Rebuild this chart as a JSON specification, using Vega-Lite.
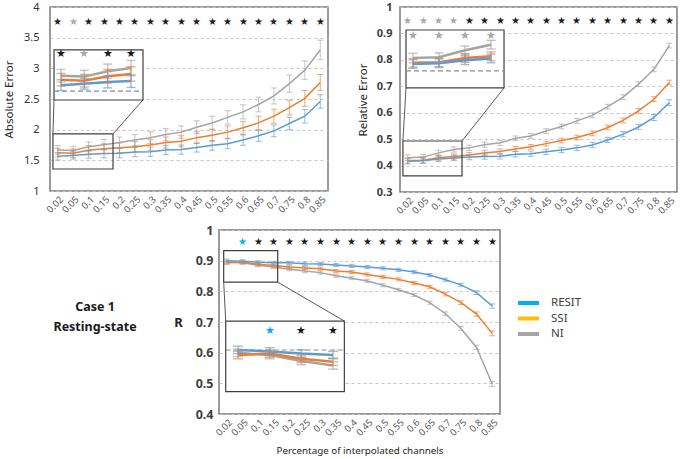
{
"$schema": "https://vega.github.io/schema/vega-lite/v6.json",
"padding": {"left": 2, "top": 0, "right": 0, "bottom": 0},
"spacing": 7,
"align": "none",
"resolve": {"scale": {"x": "independent", "y": "independent", "color": "independent", "fill": "independent", "stroke": "independent"}},
"datasets": {
"vals": [
{"pct":"0.02","method":"NI","abs":1.67,"absErr":0.07,"rel":0.43,"relErr":0.011,"r":0.896,"rErr":0.005},
{"pct":"0.05","method":"NI","abs":1.66,"absErr":0.07,"rel":0.432,"relErr":0.01,"r":0.893,"rErr":0.005},
{"pct":"0.1","method":"NI","abs":1.72,"absErr":0.08,"rel":0.448,"relErr":0.01,"r":0.885,"rErr":0.005},
{"pct":"0.15","method":"NI","abs":1.755,"absErr":0.085,"rel":0.461,"relErr":0.01,"r":0.879,"rErr":0.005},
{"pct":"0.2","method":"NI","abs":1.79,"absErr":0.09,"rel":0.467,"relErr":0.01,"r":0.872,"rErr":0.005},
{"pct":"0.25","method":"NI","abs":1.83,"absErr":0.09,"rel":0.479,"relErr":0.01,"r":0.866,"rErr":0.005},
{"pct":"0.3","method":"NI","abs":1.87,"absErr":0.095,"rel":0.486,"relErr":0.01,"r":0.861,"rErr":0.005},
{"pct":"0.35","method":"NI","abs":1.92,"absErr":0.1,"rel":0.503,"relErr":0.009,"r":0.851,"rErr":0.005},
{"pct":"0.4","method":"NI","abs":1.96,"absErr":0.1,"rel":0.512,"relErr":0.009,"r":0.843,"rErr":0.005},
{"pct":"0.45","method":"NI","abs":2.04,"absErr":0.105,"rel":0.531,"relErr":0.009,"r":0.834,"rErr":0.005},
{"pct":"0.5","method":"NI","abs":2.11,"absErr":0.11,"rel":0.548,"relErr":0.009,"r":0.82,"rErr":0.005},
{"pct":"0.55","method":"NI","abs":2.2,"absErr":0.11,"rel":0.569,"relErr":0.009,"r":0.805,"rErr":0.005},
{"pct":"0.6","method":"NI","abs":2.29,"absErr":0.115,"rel":0.59,"relErr":0.009,"r":0.788,"rErr":0.005},
{"pct":"0.65","method":"NI","abs":2.41,"absErr":0.12,"rel":0.623,"relErr":0.009,"r":0.763,"rErr":0.005},
{"pct":"0.7","method":"NI","abs":2.55,"absErr":0.13,"rel":0.659,"relErr":0.009,"r":0.727,"rErr":0.006},
{"pct":"0.75","method":"NI","abs":2.75,"absErr":0.14,"rel":0.708,"relErr":0.009,"r":0.679,"rErr":0.006},
{"pct":"0.8","method":"NI","abs":2.97,"absErr":0.15,"rel":0.764,"relErr":0.009,"r":0.617,"rErr":0.007},
{"pct":"0.85","method":"NI","abs":3.3,"absErr":0.16,"rel":0.854,"relErr":0.009,"r":0.498,"rErr":0.008},
{"pct":"0.02","method":"SSI","abs":1.625,"absErr":0.07,"rel":0.419,"relErr":0.01,"r":0.893,"rErr":0.005},
{"pct":"0.05","method":"SSI","abs":1.615,"absErr":0.07,"rel":0.42,"relErr":0.01,"r":0.895,"rErr":0.005},
{"pct":"0.1","method":"SSI","abs":1.665,"absErr":0.075,"rel":0.43,"relErr":0.01,"r":0.888,"rErr":0.005},
{"pct":"0.15","method":"SSI","abs":1.69,"absErr":0.08,"rel":0.434,"relErr":0.01,"r":0.884,"rErr":0.005},
{"pct":"0.2","method":"SSI","abs":1.705,"absErr":0.08,"rel":0.44,"relErr":0.01,"r":0.879,"rErr":0.005},
{"pct":"0.25","method":"SSI","abs":1.72,"absErr":0.085,"rel":0.448,"relErr":0.01,"r":0.876,"rErr":0.005},
{"pct":"0.3","method":"SSI","abs":1.75,"absErr":0.085,"rel":0.453,"relErr":0.01,"r":0.874,"rErr":0.005},
{"pct":"0.35","method":"SSI","abs":1.79,"absErr":0.09,"rel":0.463,"relErr":0.009,"r":0.866,"rErr":0.005},
{"pct":"0.4","method":"SSI","abs":1.81,"absErr":0.09,"rel":0.471,"relErr":0.009,"r":0.863,"rErr":0.005},
{"pct":"0.45","method":"SSI","abs":1.87,"absErr":0.095,"rel":0.483,"relErr":0.009,"r":0.855,"rErr":0.005},
{"pct":"0.5","method":"SSI","abs":1.91,"absErr":0.1,"rel":0.495,"relErr":0.009,"r":0.847,"rErr":0.005},
{"pct":"0.55","method":"SSI","abs":1.96,"absErr":0.1,"rel":0.506,"relErr":0.009,"r":0.839,"rErr":0.005},
{"pct":"0.6","method":"SSI","abs":2.03,"absErr":0.105,"rel":0.522,"relErr":0.009,"r":0.827,"rErr":0.005},
{"pct":"0.65","method":"SSI","abs":2.11,"absErr":0.11,"rel":0.544,"relErr":0.009,"r":0.815,"rErr":0.005},
{"pct":"0.7","method":"SSI","abs":2.22,"absErr":0.115,"rel":0.571,"relErr":0.009,"r":0.791,"rErr":0.006},
{"pct":"0.75","method":"SSI","abs":2.36,"absErr":0.12,"rel":0.607,"relErr":0.009,"r":0.763,"rErr":0.006},
{"pct":"0.8","method":"SSI","abs":2.51,"absErr":0.13,"rel":0.651,"relErr":0.009,"r":0.726,"rErr":0.007},
{"pct":"0.85","method":"SSI","abs":2.77,"absErr":0.13,"rel":0.714,"relErr":0.009,"r":0.663,"rErr":0.008},
{"pct":"0.02","method":"RESIT","abs":1.565,"absErr":0.06,"rel":0.416,"relErr":0.01,"r":0.9,"rErr":0.005},
{"pct":"0.05","method":"RESIT","abs":1.58,"absErr":0.06,"rel":0.418,"relErr":0.01,"r":0.898,"rErr":0.005},
{"pct":"0.1","method":"RESIT","abs":1.6,"absErr":0.065,"rel":0.425,"relErr":0.01,"r":0.895,"rErr":0.005},
{"pct":"0.15","method":"RESIT","abs":1.61,"absErr":0.07,"rel":0.429,"relErr":0.01,"r":0.893,"rErr":0.005},
{"pct":"0.2","method":"RESIT","abs":1.615,"absErr":0.075,"rel":0.432,"relErr":0.01,"r":0.893,"rErr":0.005},
{"pct":"0.25","method":"RESIT","abs":1.635,"absErr":0.075,"rel":0.434,"relErr":0.01,"r":0.89,"rErr":0.005},
{"pct":"0.3","method":"RESIT","abs":1.64,"absErr":0.075,"rel":0.435,"relErr":0.01,"r":0.889,"rErr":0.005},
{"pct":"0.35","method":"RESIT","abs":1.67,"absErr":0.075,"rel":0.443,"relErr":0.01,"r":0.886,"rErr":0.005},
{"pct":"0.4","method":"RESIT","abs":1.675,"absErr":0.075,"rel":0.445,"relErr":0.01,"r":0.883,"rErr":0.005},
{"pct":"0.45","method":"RESIT","abs":1.71,"absErr":0.075,"rel":0.452,"relErr":0.01,"r":0.879,"rErr":0.005},
{"pct":"0.5","method":"RESIT","abs":1.745,"absErr":0.08,"rel":0.459,"relErr":0.01,"r":0.875,"rErr":0.005},
{"pct":"0.55","method":"RESIT","abs":1.77,"absErr":0.08,"rel":0.467,"relErr":0.01,"r":0.87,"rErr":0.005},
{"pct":"0.6","method":"RESIT","abs":1.83,"absErr":0.085,"rel":0.478,"relErr":0.01,"r":0.863,"rErr":0.005},
{"pct":"0.65","method":"RESIT","abs":1.9,"absErr":0.09,"rel":0.497,"relErr":0.01,"r":0.853,"rErr":0.005},
{"pct":"0.7","method":"RESIT","abs":1.98,"absErr":0.095,"rel":0.519,"relErr":0.01,"r":0.838,"rErr":0.005},
{"pct":"0.75","method":"RESIT","abs":2.1,"absErr":0.1,"rel":0.546,"relErr":0.01,"r":0.821,"rErr":0.005},
{"pct":"0.8","method":"RESIT","abs":2.22,"absErr":0.11,"rel":0.582,"relErr":0.011,"r":0.796,"rErr":0.006},
{"pct":"0.85","method":"RESIT","abs":2.46,"absErr":0.11,"rel":0.638,"relErr":0.011,"r":0.752,"rErr":0.007}
],
"stars": [
{"pct":"0.02","absSig":"all","relSig":"NI","rSig":null},
{"pct":"0.05","absSig":"NI","relSig":"NI","rSig":"RESIT"},
{"pct":"0.1","absSig":"all","relSig":"NI","rSig":"all"},
{"pct":"0.15","absSig":"all","relSig":"NI","rSig":"all"},
{"pct":"0.2","absSig":"all","relSig":"all","rSig":"all"},
{"pct":"0.25","absSig":"all","relSig":"all","rSig":"all"},
{"pct":"0.3","absSig":"all","relSig":"all","rSig":"all"},
{"pct":"0.35","absSig":"all","relSig":"all","rSig":"all"},
{"pct":"0.4","absSig":"all","relSig":"all","rSig":"all"},
{"pct":"0.45","absSig":"all","relSig":"all","rSig":"all"},
{"pct":"0.5","absSig":"all","relSig":"all","rSig":"all"},
{"pct":"0.55","absSig":"all","relSig":"all","rSig":"all"},
{"pct":"0.6","absSig":"all","relSig":"all","rSig":"all"},
{"pct":"0.65","absSig":"all","relSig":"all","rSig":"all"},
{"pct":"0.7","absSig":"all","relSig":"all","rSig":"all"},
{"pct":"0.75","absSig":"all","relSig":"all","rSig":"all"},
{"pct":"0.8","absSig":"all","relSig":"all","rSig":"all"},
{"pct":"0.85","absSig":"all","relSig":"all","rSig":"all"}
],
"legendRows": [{"method":"RESIT"},{"method":"SSI"},{"method":"NI"}]
},
"vconcat": [
{"hconcat": [
{"width": 278, "height": 184,
 "resolve": {"scale": {"x": "independent", "y": "independent"}},
 "layer": [
  {"layer": [
   {"data": {"name": "vals"}, "mark": {"type": "line", "strokeWidth": 1.5},
    "encoding": {
     "x": {"field": "pct", "type": "ordinal", "title": null, "scale": {"type": "point", "padding": 0.5, "domain": ["0.02","0.05","0.1","0.15","0.2","0.25","0.3","0.35","0.4","0.45","0.5","0.55","0.6","0.65","0.7","0.75","0.8","0.85"]}},
     "y": {"field": "abs", "type": "quantitative", "title": "Absolute Error", "scale": {"domain": [1, 4], "nice": false, "zero": false}, "axis": {"values": [1,1.5,2,2.5,3,3.5,4], "tickCount": 7, "labelOverlap": false, "format": "~g", "labelPadding": 11, "titlePadding": 9, "labelFontSize": 11}},
     "color": {"field": "method", "type": "nominal", "scale": {"domain": ["RESIT","SSI","NI"], "range": ["#5B9BD5","#ED7D31","#A5A5A5"]}, "legend": null}}},
   {"data": {"name": "vals"}, "mark": {"type": "errorbar", "ticks": {"size": 6}, "thickness": 1},
    "encoding": {
     "x": {"field": "pct", "type": "ordinal", "title": null},
     "y": {"field": "abs", "type": "quantitative", "title": "Absolute Error", "axis": {"values": [1,1.5,2,2.5,3,3.5,4], "tickCount": 7, "labelOverlap": false, "format": "~g", "labelPadding": 11, "titlePadding": 9, "labelFontSize": 11}},
     "yError": {"field": "absErr"},
     "color": {"field": "method", "type": "nominal", "legend": null},
     "opacity": {"value": 0.65}}},
   {"data": {"name": "stars"}, "transform": [{"filter": "datum.absSig != null"}],
    "mark": {"type": "text", "text": "★", "fontSize": 10, "baseline": "middle"},
    "encoding": {
     "x": {"field": "pct", "type": "ordinal", "title": null},
     "y": {"datum": 3.75, "type": "quantitative", "title": "Absolute Error", "axis": {"values": [1,1.5,2,2.5,3,3.5,4], "tickCount": 7, "labelOverlap": false, "format": "~g", "labelPadding": 11, "titlePadding": 9, "labelFontSize": 11}},
     "fill": {"field": "absSig", "type": "nominal", "scale": {"domain": ["all","NI","RESIT"], "range": ["#1a1a1a","#a8a8a8","#00B0F0"]}, "legend": null}}}
  ]},
  {"data": {"values": [{}]},
   "layer": [
    {"mark": {"type": "rect", "fillOpacity": 0, "stroke": "#404040", "strokeWidth": 1.2},
     "encoding": {"x": {"datum": 0.19, "type": "quantitative", "scale": {"domain": [0, 18], "nice": false, "zero": false}, "axis": null}, "x2": {"datum": 4.08},
      "y": {"datum": 1.359, "type": "quantitative", "scale": {"domain": [1, 4], "nice": false, "zero": false}, "axis": null}, "y2": {"datum": 1.93}}},
    {"mark": {"type": "rule", "stroke": "#595959", "strokeWidth": 1},
     "encoding": {"x": {"datum": 0.19, "type": "quantitative"}, "x2": {"datum": 0.26}, "y": {"datum": 1.93, "type": "quantitative"}, "y2": {"datum": 2.484}}},
    {"mark": {"type": "rule", "stroke": "#595959", "strokeWidth": 1},
     "encoding": {"x": {"datum": 4.08, "type": "quantitative"}, "x2": {"datum": 6.02}, "y": {"datum": 1.93, "type": "quantitative"}, "y2": {"datum": 2.484}}},
    {"mark": {"type": "rect", "fill": "white", "stroke": "#404040", "strokeWidth": 1.2},
     "encoding": {"x": {"datum": 0.26, "type": "quantitative"}, "x2": {"datum": 6.02}, "y": {"datum": 2.484, "type": "quantitative"}, "y2": {"datum": 3.3}}},
    {"mark": {"type": "rule", "stroke": "#8c8c8c", "strokeWidth": 1.2, "strokeDash": [5, 3]},
     "encoding": {"x": {"datum": 0.26, "type": "quantitative"}, "x2": {"datum": 6.02}, "y": {"datum": 2.63, "type": "quantitative"}}}
   ]},
  {"layer": [
   {"data": {"name": "vals"}, "transform": [{"filter": {"field": "pct", "oneOf": ["0.02","0.05","0.1","0.15"]}}],
    "mark": {"type": "line", "strokeWidth": 2.5},
    "encoding": {
     "x": {"field": "pct", "type": "ordinal", "scale": {"type": "point", "domain": ["0.02","0.05","0.1","0.15"], "range": [11, 81], "padding": 0}, "axis": null},
     "y": {"field": "abs", "type": "quantitative", "scale": {"domain": [1.4, 1.956], "range": [93, 43], "nice": false, "zero": false}, "axis": null},
     "color": {"field": "method", "type": "nominal", "legend": null}}},
   {"data": {"name": "vals"}, "transform": [{"filter": {"field": "pct", "oneOf": ["0.02","0.05","0.1","0.15"]}}],
    "mark": {"type": "errorbar", "ticks": {"size": 9}, "thickness": 1.4},
    "encoding": {
     "x": {"field": "pct", "type": "ordinal", "axis": null},
     "y": {"field": "abs", "type": "quantitative", "axis": null},
     "yError": {"field": "absErr"},
     "color": {"field": "method", "type": "nominal", "legend": null},
     "opacity": {"value": 0.65}}},
   {"data": {"name": "stars"}, "transform": [{"filter": {"field": "pct", "oneOf": ["0.02","0.05","0.1","0.15"]}}, {"filter": "datum.absSig != null"}],
    "mark": {"type": "text", "text": "★", "fontSize": 11, "baseline": "middle"},
    "encoding": {
     "x": {"field": "pct", "type": "ordinal", "axis": null},
     "y": {"datum": 1.91, "type": "quantitative", "axis": null},
     "fill": {"field": "absSig", "type": "nominal", "legend": null}}}
  ]}
 ]},
{"width": 277, "height": 185,
 "resolve": {"scale": {"x": "independent", "y": "independent"}},
 "layer": [
  {"layer": [
   {"data": {"name": "vals"}, "mark": {"type": "line", "strokeWidth": 1.5},
    "encoding": {
     "x": {"field": "pct", "type": "ordinal", "title": null, "scale": {"type": "point", "padding": 0.5, "domain": ["0.02","0.05","0.1","0.15","0.2","0.25","0.3","0.35","0.4","0.45","0.5","0.55","0.6","0.65","0.7","0.75","0.8","0.85"]}},
     "y": {"field": "rel", "type": "quantitative", "title": "Relative Error", "scale": {"domain": [0.3, 1], "nice": false, "zero": false}, "axis": {"values": [0.3,0.4,0.5,0.6,0.7,0.8,0.9,1], "tickCount": 8, "labelOverlap": false, "format": "~g", "labelPadding": 8, "titlePadding": 8, "labelFontSize": 11, "labelFontWeight": "bold", "labelColor": "#404040"}},
     "color": {"field": "method", "type": "nominal", "scale": {"domain": ["RESIT","SSI","NI"], "range": ["#5B9BD5","#ED7D31","#A5A5A5"]}, "legend": null}}},
   {"data": {"name": "vals"}, "mark": {"type": "errorbar", "ticks": {"size": 6}, "thickness": 1},
    "encoding": {
     "x": {"field": "pct", "type": "ordinal", "title": null},
     "y": {"field": "rel", "type": "quantitative", "title": "Relative Error", "axis": {"values": [0.3,0.4,0.5,0.6,0.7,0.8,0.9,1], "tickCount": 8, "labelOverlap": false, "format": "~g", "labelPadding": 8, "titlePadding": 8, "labelFontSize": 11, "labelFontWeight": "bold", "labelColor": "#404040"}},
     "yError": {"field": "relErr"},
     "color": {"field": "method", "type": "nominal", "legend": null},
     "opacity": {"value": 0.65}}},
   {"data": {"name": "stars"}, "transform": [{"filter": "datum.relSig != null"}],
    "mark": {"type": "text", "text": "★", "fontSize": 10, "baseline": "middle"},
    "encoding": {
     "x": {"field": "pct", "type": "ordinal", "title": null},
     "y": {"datum": 0.946, "type": "quantitative", "title": "Relative Error", "axis": {"values": [0.3,0.4,0.5,0.6,0.7,0.8,0.9,1], "tickCount": 8, "labelOverlap": false, "format": "~g", "labelPadding": 8, "titlePadding": 8, "labelFontSize": 11, "labelFontWeight": "bold", "labelColor": "#404040"}},
     "fill": {"field": "relSig", "type": "nominal", "scale": {"domain": ["all","NI","RESIT"], "range": ["#1a1a1a","#a8a8a8","#00B0F0"]}, "legend": null}}}
  ]},
  {"data": {"values": [{}]},
   "layer": [
    {"mark": {"type": "rect", "fillOpacity": 0, "stroke": "#404040", "strokeWidth": 1.2},
     "encoding": {"x": {"datum": 0.19, "type": "quantitative", "scale": {"domain": [0, 18], "nice": false, "zero": false}, "axis": null}, "x2": {"datum": 4.03},
      "y": {"datum": 0.361, "type": "quantitative", "scale": {"domain": [0.3, 1], "nice": false, "zero": false}, "axis": null}, "y2": {"datum": 0.493}}},
    {"mark": {"type": "rule", "stroke": "#595959", "strokeWidth": 1},
     "encoding": {"x": {"datum": 0.19, "type": "quantitative"}, "x2": {"datum": 0.39}, "y": {"datum": 0.493, "type": "quantitative"}, "y2": {"datum": 0.694}}},
    {"mark": {"type": "rule", "stroke": "#595959", "strokeWidth": 1},
     "encoding": {"x": {"datum": 4.03, "type": "quantitative"}, "x2": {"datum": 6.76}, "y": {"datum": 0.493, "type": "quantitative"}, "y2": {"datum": 0.694}}},
    {"mark": {"type": "rect", "fill": "white", "stroke": "#404040", "strokeWidth": 1.2},
     "encoding": {"x": {"datum": 0.39, "type": "quantitative"}, "x2": {"datum": 6.76}, "y": {"datum": 0.694, "type": "quantitative"}, "y2": {"datum": 0.913}}},
    {"mark": {"type": "rule", "stroke": "#8c8c8c", "strokeWidth": 1.2, "strokeDash": [5, 3]},
     "encoding": {"x": {"datum": 0.39, "type": "quantitative"}, "x2": {"datum": 6.76}, "y": {"datum": 0.758, "type": "quantitative"}}}
   ]},
  {"layer": [
   {"data": {"name": "vals"}, "transform": [{"filter": {"field": "pct", "oneOf": ["0.02","0.05","0.1","0.15"]}}],
    "mark": {"type": "line", "strokeWidth": 2.5},
    "encoding": {
     "x": {"field": "pct", "type": "ordinal", "scale": {"type": "point", "domain": ["0.02","0.05","0.1","0.15"], "range": [13, 91], "padding": 0}, "axis": null},
     "y": {"field": "rel", "type": "quantitative", "scale": {"domain": [0.3605, 0.495], "range": [81, 23], "nice": false, "zero": false}, "axis": null},
     "color": {"field": "method", "type": "nominal", "legend": null}}},
   {"data": {"name": "vals"}, "transform": [{"filter": {"field": "pct", "oneOf": ["0.02","0.05","0.1","0.15"]}}],
    "mark": {"type": "errorbar", "ticks": {"size": 9}, "thickness": 1.4},
    "encoding": {
     "x": {"field": "pct", "type": "ordinal", "axis": null},
     "y": {"field": "rel", "type": "quantitative", "axis": null},
     "yError": {"field": "relErr"},
     "color": {"field": "method", "type": "nominal", "legend": null},
     "opacity": {"value": 0.65}}},
   {"data": {"name": "stars"}, "transform": [{"filter": {"field": "pct", "oneOf": ["0.02","0.05","0.1","0.15"]}}, {"filter": "datum.relSig != null"}],
    "mark": {"type": "text", "text": "★", "fontSize": 11, "baseline": "middle"},
    "encoding": {
     "x": {"field": "pct", "type": "ordinal", "axis": null},
     "y": {"datum": 0.481, "type": "quantitative", "axis": null},
     "fill": {"field": "relSig", "type": "nominal", "legend": null}}}
  ]}
 ]}
], "spacing": 27, "resolve": {"scale": {"x": "independent", "y": "independent", "color": "independent", "fill": "independent", "stroke": "independent"}}},
{"hconcat": [
{"width": 114, "height": 184, "view": {"stroke": null},
 "data": {"values": [{}]},
 "layer": [
  {"mark": {"type": "text", "text": "Case 1", "fontSize": 12.5, "fontWeight": "bold", "color": "#1a1a1a"},
   "encoding": {"x": {"datum": 0.395, "type": "quantitative", "scale": {"domain": [0, 1]}, "axis": null}, "y": {"datum": 0.5815, "type": "quantitative", "scale": {"domain": [0, 1]}, "axis": null}}},
  {"mark": {"type": "text", "text": "Resting-state", "fontSize": 12.5, "fontWeight": "bold", "color": "#1a1a1a"},
   "encoding": {"x": {"datum": 0.395, "type": "quantitative"}, "y": {"datum": 0.473, "type": "quantitative"}}}
 ]},
{"width": 281, "height": 184,
 "resolve": {"scale": {"x": "independent", "y": "independent"}},
 "layer": [
  {"layer": [
   {"data": {"name": "vals"}, "mark": {"type": "line", "strokeWidth": 1.5},
    "encoding": {
     "x": {"field": "pct", "type": "ordinal", "title": "Percentage of interpolated channels", "scale": {"type": "point", "padding": 0.5, "domain": ["0.02","0.05","0.1","0.15","0.2","0.25","0.3","0.35","0.4","0.45","0.5","0.55","0.6","0.65","0.7","0.75","0.8","0.85"]}, "axis": {"titleFontSize": 9.8, "titlePadding": 8}},
     "y": {"field": "r", "type": "quantitative", "title": "R", "scale": {"domain": [0.4, 1], "nice": false, "zero": false}, "axis": {"values": [0.4,0.5,0.6,0.7,0.8,0.9,1], "tickCount": 7, "labelOverlap": false, "format": "~g", "labelPadding": 6, "titlePadding": 13, "labelFontSize": 12.5, "labelFontWeight": "bold", "labelColor": "#404040", "titleAngle": 0, "titleAlign": "right", "titleBaseline": "middle", "titleFontWeight": "bold", "titleFontSize": 13}},
     "color": {"field": "method", "type": "nominal", "scale": {"domain": ["RESIT","SSI","NI"], "range": ["#5B9BD5","#ED7D31","#A5A5A5"]}, "legend": null}}},
   {"data": {"name": "vals"}, "mark": {"type": "errorbar", "ticks": {"size": 6}, "thickness": 1},
    "encoding": {
     "x": {"field": "pct", "type": "ordinal", "title": "Percentage of interpolated channels"},
     "y": {"field": "r", "type": "quantitative", "title": "R", "axis": {"values": [0.4,0.5,0.6,0.7,0.8,0.9,1], "tickCount": 7, "labelOverlap": false, "format": "~g", "labelPadding": 6, "titlePadding": 13, "labelFontSize": 12.5, "labelFontWeight": "bold", "labelColor": "#404040", "titleAngle": 0, "titleAlign": "right", "titleBaseline": "middle", "titleFontWeight": "bold", "titleFontSize": 13}},
     "yError": {"field": "rErr"},
     "color": {"field": "method", "type": "nominal", "legend": null},
     "opacity": {"value": 0.65}}},
   {"data": {"name": "stars"}, "transform": [{"filter": "datum.rSig != null"}],
    "mark": {"type": "text", "text": "★", "fontSize": 10, "baseline": "middle"},
    "encoding": {
     "x": {"field": "pct", "type": "ordinal", "title": "Percentage of interpolated channels"},
     "y": {"datum": 0.961, "type": "quantitative", "title": "R", "axis": {"values": [0.4,0.5,0.6,0.7,0.8,0.9,1], "tickCount": 7, "labelOverlap": false, "format": "~g", "labelPadding": 6, "titlePadding": 13, "labelFontSize": 12.5, "labelFontWeight": "bold", "labelColor": "#404040", "titleAngle": 0, "titleAlign": "right", "titleBaseline": "middle", "titleFontWeight": "bold", "titleFontSize": 13}},
     "fill": {"field": "rSig", "type": "nominal", "scale": {"domain": ["all","NI","RESIT"], "range": ["#1a1a1a","#a8a8a8","#00B0F0"]}, "legend": null}}}
  ]},
  {"data": {"values": [{}]},
   "layer": [
    {"mark": {"type": "rect", "fillOpacity": 0, "stroke": "#404040", "strokeWidth": 1.2},
     "encoding": {"x": {"datum": 0.3, "type": "quantitative", "scale": {"domain": [0, 18], "nice": false, "zero": false}, "axis": null}, "x2": {"datum": 3.76},
      "y": {"datum": 0.83, "type": "quantitative", "scale": {"domain": [0.4, 1], "nice": false, "zero": false}, "axis": null}, "y2": {"datum": 0.9325}}},
    {"mark": {"type": "rule", "stroke": "#595959", "strokeWidth": 1},
     "encoding": {"x": {"datum": 0.3, "type": "quantitative"}, "x2": {"datum": 0.43}, "y": {"datum": 0.83, "type": "quantitative"}, "y2": {"datum": 0.703}}},
    {"mark": {"type": "rule", "stroke": "#595959", "strokeWidth": 1},
     "encoding": {"x": {"datum": 3.76, "type": "quantitative"}, "x2": {"datum": 8.03}, "y": {"datum": 0.83, "type": "quantitative"}, "y2": {"datum": 0.703}}},
    {"mark": {"type": "rect", "fill": "white", "stroke": "#404040", "strokeWidth": 1.2},
     "encoding": {"x": {"datum": 0.43, "type": "quantitative"}, "x2": {"datum": 8.03}, "y": {"datum": 0.473, "type": "quantitative"}, "y2": {"datum": 0.703}}},
    {"mark": {"type": "rule", "stroke": "#8c8c8c", "strokeWidth": 1.2, "strokeDash": [5, 3]},
     "encoding": {"x": {"datum": 0.43, "type": "quantitative"}, "x2": {"datum": 8.03}, "y": {"datum": 0.6087, "type": "quantitative"}}}
   ]},
  {"layer": [
   {"data": {"name": "vals"}, "transform": [{"filter": {"field": "pct", "oneOf": ["0.02","0.05","0.1","0.15"]}}],
    "mark": {"type": "line", "strokeWidth": 2.5},
    "encoding": {
     "x": {"field": "pct", "type": "ordinal", "scale": {"type": "point", "domain": ["0.02","0.05","0.1","0.15"], "range": [19, 114], "padding": 0}, "axis": null},
     "y": {"field": "r", "type": "quantitative", "scale": {"domain": [0.8436, 0.939], "range": [161.7, 91], "nice": false, "zero": false}, "axis": null},
     "color": {"field": "method", "type": "nominal", "legend": null}}},
   {"data": {"name": "vals"}, "transform": [{"filter": {"field": "pct", "oneOf": ["0.02","0.05","0.1","0.15"]}}],
    "mark": {"type": "errorbar", "ticks": {"size": 10}, "thickness": 1.4},
    "encoding": {
     "x": {"field": "pct", "type": "ordinal", "axis": null},
     "y": {"field": "r", "type": "quantitative", "axis": null},
     "yError": {"field": "rErr"},
     "color": {"field": "method", "type": "nominal", "legend": null},
     "opacity": {"value": 0.65}}},
   {"data": {"name": "stars"}, "transform": [{"filter": {"field": "pct", "oneOf": ["0.02","0.05","0.1","0.15"]}}, {"filter": "datum.rSig != null"}],
    "mark": {"type": "text", "text": "★", "fontSize": 11, "baseline": "middle"},
    "encoding": {
     "x": {"field": "pct", "type": "ordinal", "axis": null},
     "y": {"datum": 0.9257, "type": "quantitative", "axis": null},
     "fill": {"field": "rSig", "type": "nominal", "legend": null}}}
  ]}
 ]},
{"width": 120, "height": 184, "view": {"stroke": null},
 "data": {"name": "legendRows"},
 "layer": [
  {"mark": {"type": "rule", "strokeWidth": 4},
   "encoding": {"x": {"datum": 0.075, "type": "quantitative", "scale": {"domain": [0, 1]}, "axis": null}, "x2": {"datum": 0.25},
    "y": {"field": "method", "type": "nominal", "scale": {"type": "point", "domain": ["RESIT","SSI","NI"], "range": [73, 104], "padding": 0}, "axis": null},
    "stroke": {"field": "method", "type": "nominal", "scale": {"domain": ["RESIT","SSI","NI"], "range": ["#00B0F0","#FFC000","#A5A5A5"]}, "legend": null}}},
  {"mark": {"type": "text", "align": "left", "baseline": "middle", "fontSize": 11.5, "color": "#404040"},
   "encoding": {"x": {"datum": 0.35, "type": "quantitative"}, "y": {"field": "method", "type": "nominal"}, "text": {"field": "method"}}}
 ]}
], "spacing": 8, "resolve": {"scale": {"x": "independent", "y": "independent", "color": "independent", "fill": "independent", "stroke": "independent"}}}
],
"config": {
 "font": "Noto Sans",
 "view": {"stroke": "#7a7a7a", "strokeWidth": 1.5},
 "axis": {"ticks": false, "domain": false, "labelOverlap": false, "gridColor": "#c6c6c6", "gridDash": [3, 3], "gridWidth": 1, "labelColor": "#333333", "titleColor": "#262626", "labelFontSize": 11, "titleFontSize": 11.5, "titleFontWeight": "normal"},
 "axisY": {"grid": true},
 "axisX": {"grid": false, "labelAngle": -45, "labelFontSize": 9.5, "labelPadding": 3, "labelColor": "#595959"}
}
}
